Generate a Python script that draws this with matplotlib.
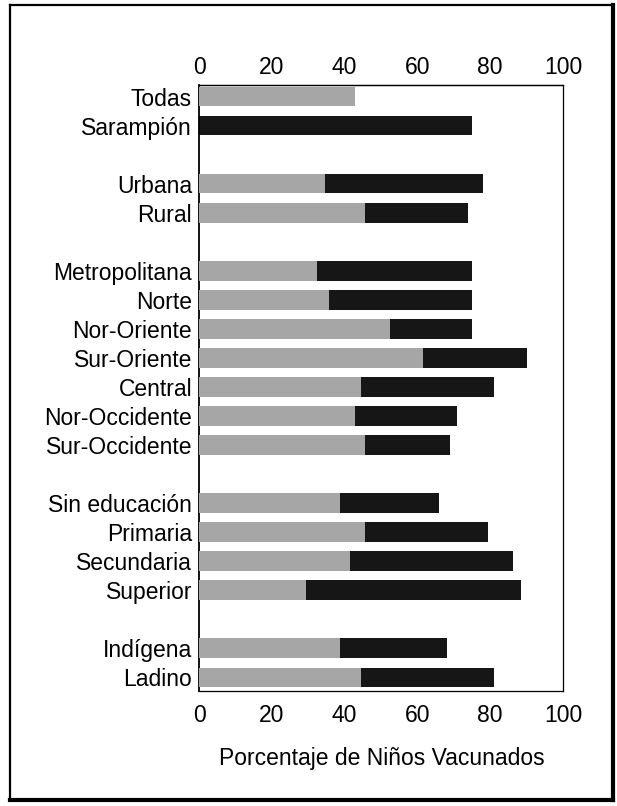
import matplotlib
matplotlib.use("Agg")
import matplotlib.pyplot as plt
from matplotlib.lines import Line2D
import numpy as np

plt.rcParams['font.family'] = ['Liberation Sans', 'DejaVu Sans']

categorias = ["Todas", "Sarampión",
              "Urbana", "Rural",
              "Metropolitana", "Norte", "Nor-Oriente", "Sur-Oriente",
              "Central", "Nor-Occidente", "Sur-Occidente",
              "Sin educación", "Primaria", "Secundaria", "Superior",
              "Indígena", "Ladino"]
# slot index of each bar (blank slots separate the groups)
posiciones = [0, 1, 3, 4, 6, 7, 8, 9, 10, 11, 12, 14, 15, 16, 17, 19, 20]
# light grey segment (0 = none)
valores_gris = [42.8, 0, 34.7, 45.5, 32.5, 35.8, 52.6, 61.5, 44.5, 42.8, 45.5,
                38.7, 45.5, 41.4, 29.5, 38.7, 44.5]
# dark segment end (0 = none)
valores_negro = [0, 75.0, 78.1, 74.0, 75.0, 75.0, 75.0, 90.0, 81.0, 71.0, 68.9,
                 66.0, 79.4, 86.2, 88.4, 68.0, 81.1]
ticks_x = [0, 20, 40, 60, 80, 100]

W, H = 617, 806
fig = plt.figure(figsize=(W / 100, H / 100), dpi=100)
ax = fig.add_axes([199 / W, 1 - 691 / H, (563 - 199) / W, (691 - 85) / H])

alto = 0.66
ax.barh(posiciones, valores_negro, height=alto, color='#161616', zorder=2)
ax.barh(posiciones, valores_gris, height=alto, color='#a6a6a6', zorder=3)

ax.set_xlim(0, 100)
ax.set_ylim(20.48, -0.41)
ax.set_yticks(posiciones)
ax.set_yticklabels(categorias, fontsize=16.5)
ax.set_xticks(ticks_x)
ax.set_xticklabels([str(t) for t in ticks_x], fontsize=16.5)
ax.tick_params(axis='x', length=0, pad=9)
ax.tick_params(axis='y', length=0, pad=5)

sec = ax.secondary_xaxis('top')
sec.set_xticks(ticks_x)
sec.set_xticklabels([str(t) for t in ticks_x], fontsize=16.5)
sec.tick_params(axis='x', length=0, pad=4)
sec.spines['top'].set_linewidth(0.9)

for s in ax.spines.values():
    s.set_linewidth(0.9)
ax.spines['left'].set_linewidth(1.3)

fig.text(381.5 / W, 1 - 758 / H, "Porcentaje de Niños Vacunados",
         ha='center', va='center', fontsize=16.5)

# outer frame with heavier right/bottom edges
x0, x1 = 10 / W, 613 / W
y0, y1 = 1 - 800 / H, 1 - 5 / H
fig.add_artist(Line2D([x0, x0], [y0, y1], color='black', lw=1.6, transform=fig.transFigure))
fig.add_artist(Line2D([x0, x1], [y1, y1], color='black', lw=1.6, transform=fig.transFigure))
fig.add_artist(Line2D([x1, x1], [y0, y1], color='black', lw=3, transform=fig.transFigure))
fig.add_artist(Line2D([x0, x1], [y0, y0], color='black', lw=3, transform=fig.transFigure))

fig.savefig("out.png", dpi=100)
